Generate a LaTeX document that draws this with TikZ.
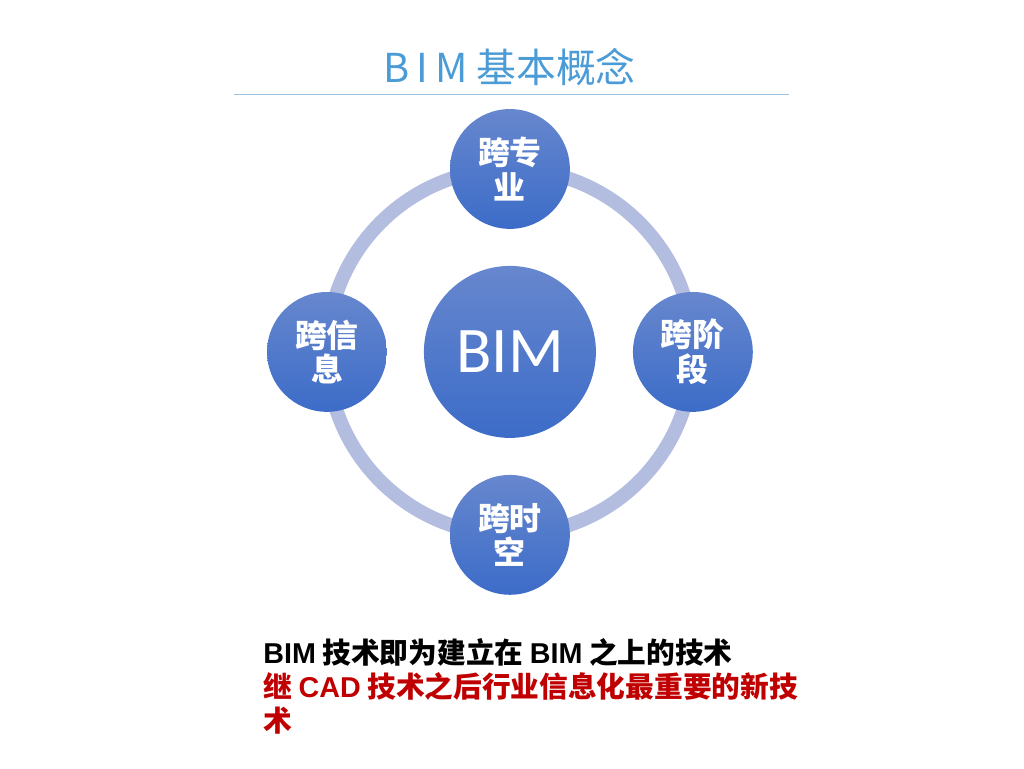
\documentclass[tikz,border=0pt]{standalone}
\usepackage{fontspec}
\setmainfont{Noto Sans CJK SC}
\newfontfamily\calibri{Carlito}
\newfontfamily\arial{Liberation Sans}
\usepackage{xcolor}
\usepackage{tikz}
\definecolor{titleblue}{HTML}{4A9BD6}
\definecolor{ruleblue}{HTML}{9DC3E6}
\definecolor{ringblue}{HTML}{B3BDDF}
\definecolor{discttop}{HTML}{6787CE}
\definecolor{discbot}{HTML}{3C6CC8}
\definecolor{darkred}{HTML}{C00000}
\newcommand{\lat}[1]{{\arial\bfseries #1}}
\tikzset{
    disc/.style={circle, top color=discttop, bottom color=discbot, draw=none, text=white, inner sep=0pt},
    aspect/.style={disc, minimum size=3.17cm, align=center, font=\fontsize{24}{26}\selectfont\bfseries},
    core/.style={disc, minimum size=4.55cm, font=\calibri\fontsize{49}{55}\selectfont},
    ring/.style={draw=ringblue, line width=0.37cm},
}

\begin{document}
\begin{tikzpicture}

\useasboundingbox (0, 0) rectangle (27.09, 20.32);

% === TITLE ===
\node[text=titleblue, font=\fontsize{30}{34}\selectfont] (title) at (13.49, 18.55) {B\,I\,M 基本概念};
\coordinate (ruleL) at (6.19, 17.83);
\coordinate (ruleR) at (20.87, 17.83);
\draw[ruleblue, line width=0.8pt] (ruleL) -- (ruleR);

% === RING ===
\coordinate (mid) at (13.49, 11.01);
\draw[ring] (mid) circle (4.84);

% === DISCS ===
\node[core] (bim) at (mid) {BIM};
\node[aspect] (zy) at (13.49, 15.85) {跨专\\业};
\node[aspect] (jd) at (18.33, 11.01) {跨阶\\段};
\node[aspect] (sk) at (13.49, 6.17) {跨时\\空};
\node[aspect] (xx) at (8.65, 11.01) {跨信\\息};

% === CAPTION ===
\node[anchor=north west, align=left, inner sep=0pt, font=\fontsize{21.6}{25.5}\selectfont\bfseries] (cap) at (6.96, 3.43)
    {\lat{BIM} 技术即为建立在 \lat{BIM} 之上的技术\\
     \textcolor{darkred}{继 \lat{CAD} 技术之后行业信息化最重要的新技}\\
     \textcolor{darkred}{术}};

\end{tikzpicture}
\end{document}
